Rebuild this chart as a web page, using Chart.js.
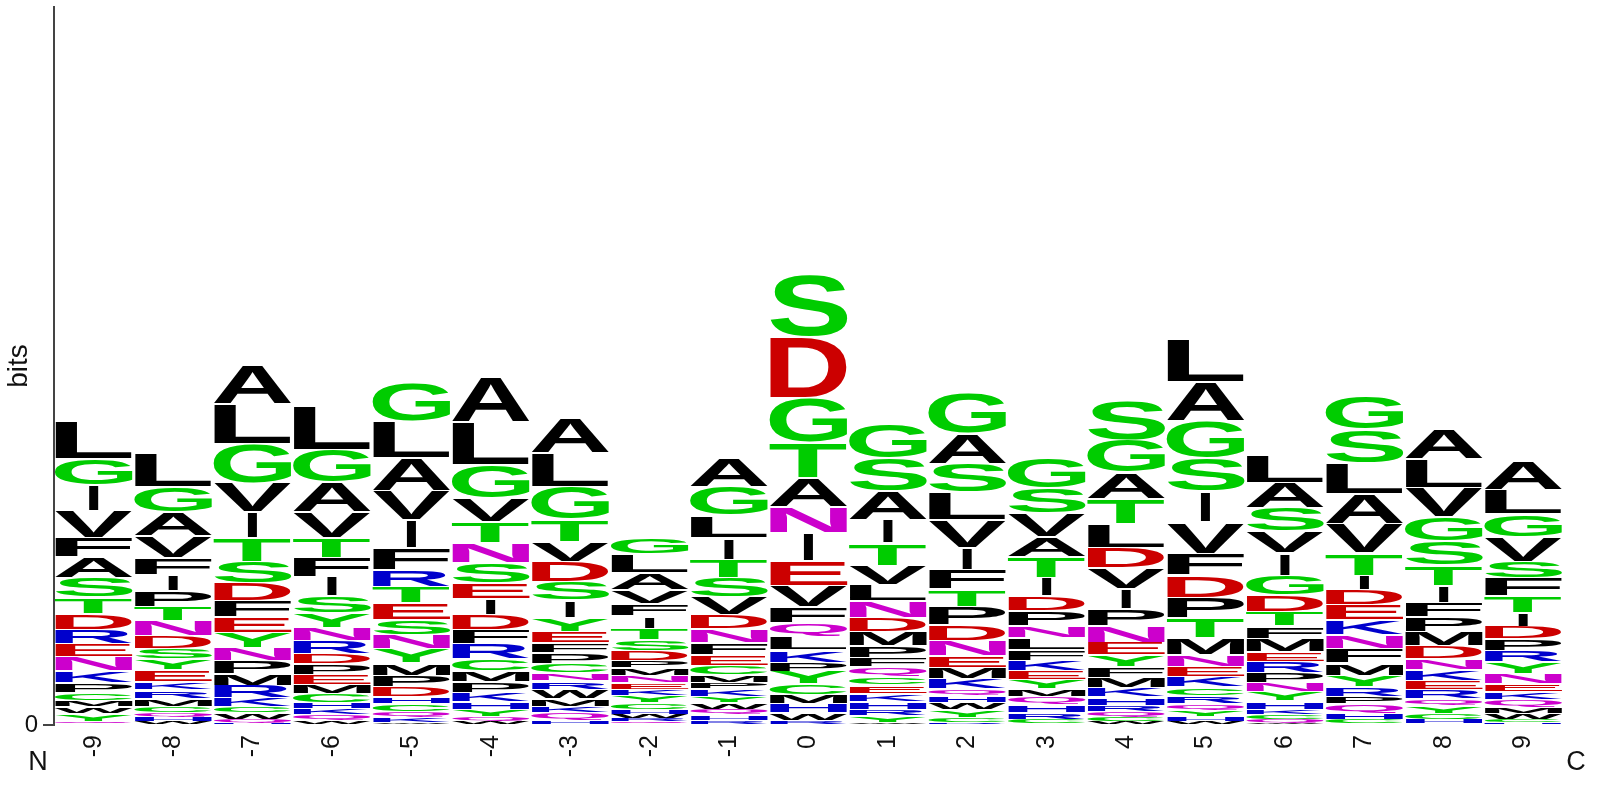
<!DOCTYPE html>
<html>
<head>
<meta charset="utf-8">
<title>Sequence logo</title>
<script src="https://cdn.jsdelivr.net/npm/chart.js@4/dist/chart.umd.js"></script>
<style>
  html, body { margin: 0; padding: 0; background: #fff; }
  canvas { display: block; }
</style>
</head>
<body>
<canvas id="logo" width="1600" height="786"></canvas>
<script>
const positions = ['-9','-8','-7','-6','-5','-4','-3','-2','-1','0','1','2','3','4','5','6','7','8','9'];

// letters of each stack, bottom to top
const stackLetters = [
  'QYWMCPKNERDTSAFVIGL',
  'WHQCMRKEYSDNTPIFVAGL',
  'HQWCKRMPNYEFDSTIVGLA',
  'WQKHCMEPDRNYSIFTVAGL',
  'WKQCHDPMYNSETRFIVALG',
  'WQYHKPMCRFDIESNTVGLA',
  'HQKMWRNCPFEYISDVTGLA',
  'QRWHCYKENMPDSTIFVALG',
  'RHQWYKPMCEFNDVSTILGA',
  'RWHMCYPKLQFVEINATGDS',
  'WYRHKECQFPMDNLVTIASG',
  'RCYWHQKMENDPTFIVLSAG',
  'CRHQMYEKFLNPDITAVSG',
  'WCQRHKMFYENPIVDLTAGS',
  'WHYQRCKENMTPDFVISGAL',
  'WQCKHYNPREMFTDGIVSAL',
  'CHQPRYMFNKEDITVALSG',
  'WHCYQREKNDMPFITSGVLA',
  'HCWMQKENYRPDITFSVGLA'
];

// letter heights in bits, same order as stackLetters
const stackBits = [
  [.021,.048,.039,.036,.051,.057,.072,.087,.075,.087,.096,.096,.117,.123,.12,.159,.156,.159,.222],
  [.021,.027,.024,.039,.048,.051,.051,.069,.066,.063,.075,.093,.084,.093,.096,.105,.129,.144,.153,.198],
  [.012,.021,.039,.036,.054,.075,.069,.078,.081,.09,.09,.099,.105,.132,.144,.153,.174,.237,.24,.234],
  [.027,.033,.039,.036,.054,.054,.06,.066,.06,.075,.081,.084,.105,.114,.117,.117,.156,.177,.195,.261],
  [.015,.033,.03,.048,.042,.06,.069,.075,.087,.084,.09,.099,.099,.099,.135,.165,.177,.195,.219,.234],
  [.021,.027,.045,.045,.057,.066,.066,.069,.09,.087,.09,.096,.093,.123,.117,.129,.141,.201,.258,.273],
  [.027,.045,.036,.048,.057,.051,.051,.054,.066,.057,.069,.081,.105,.111,.123,.12,.135,.195,.204,.213],
  [.021,.021,.024,.027,.039,.045,.036,.039,.045,.045,.045,.06,.063,.069,.075,.075,.081,.105,.111,.099],
  [.027,.033,.033,.039,.039,.045,.039,.045,.054,.066,.075,.081,.084,.105,.117,.111,.129,.135,.171,.171],
  [.027,.045,.054,.057,.063,.075,.054,.075,.081,.081,.096,.129,.15,.165,.159,.174,.21,.27,.366,.375],
  [.015,.039,.039,.045,.051,.051,.051,.06,.054,.069,.087,.084,.099,.099,.114,.135,.141,.171,.195,.21],
  [.012,.033,.045,.045,.042,.039,.06,.069,.069,.093,.093,.111,.105,.117,.132,.165,.165,.171,.183,.246],
  [.033,.039,.051,.048,.045,.057,.054,.06,.066,.069,.075,.09,.087,.111,.123,.12,.141,.15,.18],
  [.021,.024,.033,.039,.051,.057,.06,.066,.069,.075,.099,.105,.117,.126,.123,.141,.15,.159,.195,.24],
  [.021,.027,.039,.039,.051,.051,.06,.06,.075,.099,.12,.123,.132,.132,.189,.183,.198,.225,.234,.255],
  [.012,.018,.03,.033,.051,.054,.054,.06,.069,.057,.081,.075,.087,.099,.117,.135,.129,.141,.153,.159],
  [.033,.039,.054,.045,.057,.069,.075,.087,.081,.09,.09,.09,.087,.135,.174,.18,.186,.201,.201],
  [.009,.024,.036,.045,.042,.054,.057,.063,.066,.078,.087,.087,.087,.102,.12,.147,.147,.174,.171,.18],
  [.015,.018,.036,.039,.045,.045,.051,.06,.069,.069,.069,.075,.081,.099,.108,.102,.147,.138,.147,.174]
];

const maxBits = 4.308;

const colorGroups = [
  { letters: 'GSTYC', color: '#00cc00' },
  { letters: 'QN', color: '#cc00cc' },
  { letters: 'KRH', color: '#0000cc' },
  { letters: 'DE', color: '#cc0000' },
  { letters: 'AVLIPWFM', color: '#000000' }
];

function letterColor(letter) {
  return colorGroups.find(g => g.letters.includes(letter)).color;
}

// one dataset per layer of the stacks
const datasets = [];
for (let layer = 0; layer < 20; layer++) {
  datasets.push({
    label: 'layer ' + layer,
    data: stackBits.map(bits => bits[layer] || 0),
    backgroundColor: 'transparent',
    borderWidth: 0
  });
}

// stretches each letter over the rectangle of its bar
const letterPlugin = {
  id: 'letterPlugin',
  afterDatasetsDraw(chart) {
    const { ctx } = chart;
    ctx.save();
    ctx.font = 'bold 100px "Liberation Sans"';
    ctx.textAlign = 'left';
    ctx.textBaseline = 'alphabetic';
    chart.data.datasets.forEach((ds, layer) => {
      chart.getDatasetMeta(layer).data.forEach((bar, pos) => {
        const letter = stackLetters[pos][layer];
        if (!letter) return;
        const m = ctx.measureText(letter);
        const boxW = m.actualBoundingBoxLeft + m.actualBoundingBoxRight;
        const boxH = m.actualBoundingBoxAscent + m.actualBoundingBoxDescent;
        const h = bar.base - bar.y;
        const gap = Math.min(0.8, h * 0.1);
        const w = letter === 'I' ? 10 : bar.width;
        ctx.save();
        ctx.translate(bar.x - w / 2, bar.y + gap);
        ctx.scale(w / boxW, (h - gap * 2) / boxH);
        ctx.fillStyle = letterColor(letter);
        ctx.fillText(letter, m.actualBoundingBoxLeft, m.actualBoundingBoxAscent);
        ctx.restore();
      });
    });

    // N and C ends of the sequence
    const { left, right, bottom } = chart.chartArea;
    ctx.font = '27px "Liberation Sans"';
    ctx.fillStyle = '#111';
    ctx.textBaseline = 'alphabetic';
    ctx.textAlign = 'center';
    ctx.fillText('N', left - 16, bottom + 45);
    ctx.fillText('C', right + 13, bottom + 45);
    ctx.restore();
  }
};

new Chart(document.getElementById('logo'), {
  type: 'bar',
  data: { labels: positions, datasets },
  plugins: [letterPlugin],
  options: {
    responsive: false,
    animation: false,
    events: [],
    layout: { padding: { top: 7, right: 37 } },
    datasets: { bar: { barPercentage: 0.98, categoryPercentage: 1 } },
    plugins: { legend: { display: false }, tooltip: { enabled: false } },
    scales: {
      x: {
        stacked: true,
        grid: { display: false },
        border: { display: false },
        ticks: {
          color: '#111',
          font: { family: 'Liberation Sans', size: 25 },
          minRotation: 90,
          maxRotation: 90,
          padding: 2,
          autoSkip: false
        },
        afterFit(scale) { scale.height = 61; scale.paddingLeft = 0; scale.paddingRight = 0; }
      },
      y: {
        stacked: true,
        min: 0,
        max: maxBits,
        grid: { drawOnChartArea: false, drawTicks: true, tickLength: 11, color: '#444', lineWidth: 2 },
        border: { color: '#444', width: 2 },
        ticks: {
          color: '#111',
          font: { family: 'Liberation Sans', size: 24 },
          padding: 5
        },
        afterBuildTicks(scale) { scale.ticks = [{ value: 0 }]; },
        afterFit(scale) { scale.width = 54; scale.paddingTop = 0; scale.paddingBottom = 0; },
        title: {
          display: true,
          text: 'bits',
          color: '#111',
          font: { family: 'Liberation Sans', size: 28 },
          padding: { top: 2, bottom: 0 }
        }
      }
    }
  }
});
</script>
</body>
</html>
